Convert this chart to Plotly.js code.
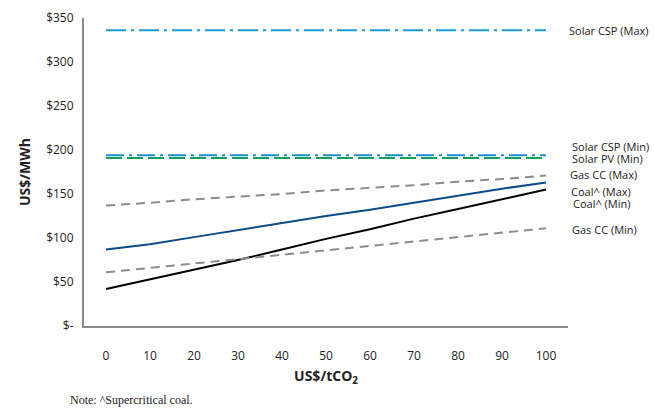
<!DOCTYPE html>
<html><head><meta charset="utf-8">
<script src="https://cdn.plot.ly/plotly-3.0.1.min.js"></script>
<style>html,body{margin:0;padding:0;background:#fff}#c{width:654px;height:409px}</style>
</head><body><div id="c"></div>
<script>
const carbonPrice = [0,10,20,30,40,50,60,70,80,90,100];
const solarCspMax = [336,336,336,336,336,336,336,336,336,336,336];
const solarCspMin = [194,194,194,194,194,194,194,194,194,194,194];
const solarPvMin  = [191,191,191,191,191,191,191,191,191,191,191];
const gasCcMax    = [137,140,144,147,150,154,157,160,164,167,171];
const coalMax     = [87,93,101,109,117,125,132,140,148,156,163];
const coalMin     = [42,53,64,75,87,99,110,122,133,144,155];
const gasCcMin    = [61,66,71,76,81,86,91,96,101,106,111];
const yTickVals = [0,50,100,150,200,250,300,350];
const yTickText = ['$-','$50','$100','$150','$200','$250','$300','$350'];
const seriesNames = ['Solar CSP (Max)','Solar CSP (Min)','Solar PV (Min)','Gas CC (Max)','Coal^ (Max)','Coal^ (Min)','Gas CC (Min)'];

const xs = carbonPrice.map(String);
function tr(y, color, dash, name){
  return {x: xs, y: y, type:'scatter', mode:'lines', name:name,
    line:{color:color, width:2, dash:dash}, hoverinfo:'skip'};
}
const data = [
  tr(solarCspMax,'#1a9ad6','20px,5px,3px,5px',seriesNames[0]),
  tr(solarPvMin,'#12a05c','16px,5px',seriesNames[2]),
  tr(solarCspMin,'#1a8fd0','18px,5px,3px,5px',seriesNames[1]),
  tr(gasCcMax,'#8c8c8c','9px,6px',seriesNames[3]),
  tr(coalMax,'#0d4a8a','solid',seriesNames[4]),
  tr(coalMin,'#000000','solid',seriesNames[5]),
  tr(gasCcMin,'#8c8c8c','9px,6px',seriesNames[6])
];
const labelFont = {family:'Open Sans, Liberation Sans, sans-serif', size:11, color:'#222'};
const labelPos = [
  {x:567,y:30},{x:570,y:147},{x:570,y:158},{x:568,y:174},{x:569,y:191},{x:571,y:203},{x:570,y:229}
];
const annotations = seriesNames.map((n,i)=>({
  text:n, xref:'paper', yref:'paper', showarrow:false, xanchor:'left', yanchor:'middle',
  x:(labelPos[i].x-84)/484, y:(326-labelPos[i].y)/308, font:labelFont
}));
annotations.push({text:'Note: ^Supercritical coal.', xref:'paper', yref:'paper', showarrow:false,
  xanchor:'left', yanchor:'middle', x:(68-84)/484, y:(326-400)/308,
  font:{family:'Liberation Serif, Times New Roman, serif', size:12, color:'#222'}});

const layout = {
  width:654, height:409,
  margin:{l:84, r:86, t:18, b:83},
  paper_bgcolor:'#fff', plot_bgcolor:'#fff',
  showlegend:false,
  font:{family:'Open Sans, Liberation Sans, sans-serif', size:12, color:'#222'},
  xaxis:{type:'category', range:[-0.5,10.5], showgrid:false, zeroline:false, showline:true, linecolor:'#8c8c8c', linewidth:2,
    ticks:'', ticklabelstandoff:18, tickfont:{size:12},
    title:{text:'<b>US$/tCO<sub>2</sub></b>', font:{size:14}, standoff:8}},
  yaxis:{range:[0,350], showgrid:false, zeroline:false, showline:true, linecolor:'#8c8c8c', linewidth:2,
    tickvals:yTickVals, ticktext:yTickText, ticks:'', ticklabelstandoff:6, tickfont:{size:12},
    title:{text:'<b>US$/MWh</b>', font:{size:14}, standoff:12}},
  annotations:annotations
};
Plotly.newPlot('c', data, layout, {staticPlot:true, displayModeBar:false});
</script></body></html>
